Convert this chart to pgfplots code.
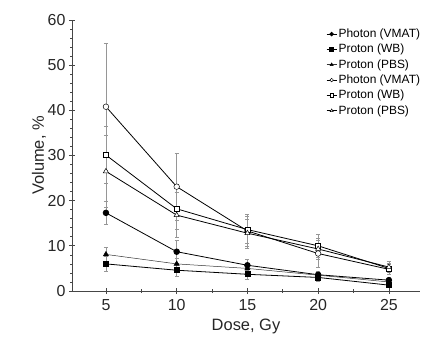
\documentclass[border=0pt]{standalone}
\usepackage{pgfplots}
\pgfplotsset{compat=1.18}
\usepackage{fontspec}
\setmainfont{Liberation Sans}
\definecolor{axgray}{RGB}{70,70,70}
\definecolor{errgray}{RGB}{150,150,150}
\begin{document}
\begin{tikzpicture}[x=1bp,y=1bp]
\useasboundingbox (-72bp,-53bp) rectangle (349bp,291bp);
\begin{axis}[
  at={(0,0)}, anchor=origin,
  scale only axis, width=348bp, height=271bp,
  xmin=2.6, xmax=27.2, ymin=0, ymax=60,
  xtick={5,10,15,20,25}, ytick={0,10,...,60},
  minor x tick num=1, minor y tick num=4,
  axis lines*=left, axis line style={-, axgray, line width=0.8pt},
  tick align=center, tick style={axgray, line width=0.7pt},
  major tick length=6bp, minor tick length=3bp,
  ticklabel style={font=\fontsize{16}{18}\selectfont, text=black!85},
  xticklabel style={yshift=-2bp},
  /pgf/number format/assume math mode=true,
  xlabel={Dose, Gy}, ylabel={Volume, \%},
  label style={font=\fontsize{16.5}{18}\selectfont, text=black!85},
  xlabel style={yshift=-1bp},
  ylabel style={yshift=-5bp},
  legend style={at={(1.005,0.975)}, anchor=north east, draw=none, fill=none,
    font=\fontsize{12}{13}\selectfont, row sep=1.2bp, inner sep=0pt,
    nodes={inner xsep=1.5bp}},
  legend cell align=left,
  legend image code/.code={\draw[#1, mark repeat=2, mark phase=2, mark size=1.8bp] plot coordinates {(0bp,0bp) (5bp,0bp) (10bp,0bp)};},
  error bars/error bar style={errgray, line width=0.5pt},
  error bars/error mark options={rotate=90, errgray, mark size=2bp, line width=0.5pt},
]
% filled circle: Photon (VMAT)
\addplot[black, line width=0.8pt, mark=*, mark size=2.8bp, mark options={fill=black},
  error bars/.cd, y dir=both, y explicit] coordinates {
  (5,17.3) +- (0,2.5) (10,8.7) +- (0,2.5) (15,5.7) +- (0,1.3) (20,3.6) +- (0,0.8) (25,2.4) +- (0,0.6)};
\addlegendentry{Photon (VMAT)}
% filled square: Proton (WB)
\addplot[black, line width=0.8pt, mark=square*, mark size=2.5bp, mark options={fill=black},
  error bars/.cd, y dir=both, y explicit] coordinates {
  (5,6.0) +- (0,1.6) (10,4.6) +- (0,1.3) (15,3.7) +- (0,1.0) (20,3.0) +- (0,0.8) (25,1.3) +- (0,0.5)};
\addlegendentry{Proton (WB)}
% filled triangle: Proton (PBS)
\addplot[black!80, line width=0.5pt, mark=triangle*, mark size=3bp, mark options={fill=black, draw=black},
  error bars/.cd, y dir=both, y explicit] coordinates {
  (5,8.1) +- (0,1.5) (10,6.0) +- (0,1.3) (15,5.0) +- (0,1.0) (20,3.5) +- (0,0.8) (25,2.0) +- (0,0.5)};
\addlegendentry{Proton (PBS)}
% open circle: Photon (VMAT)
\addplot[black, line width=0.8pt, mark=*, mark size=2.8bp, mark options={fill=white, draw=black, line width=0.5pt},
  error bars/.cd, y dir=both, y explicit] coordinates {
  (5,40.8) +- (0,14.0) (10,23.1) +- (0,7.4) (15,13.3) +- (0,3.8) (20,8.3) +- (0,3.0) (25,4.8) +- (0,1.2)};
\addlegendentry{Photon (VMAT)}
% open square: Proton (WB)
\addplot[black, line width=0.8pt, mark=square*, mark size=2.6bp, mark options={fill=white, draw=black, line width=0.5pt},
  error bars/.cd, y dir=both, y explicit] coordinates {
  (5,30.1) +- (0,6.3) (10,18.2) +- (0,4.5) (15,13.6) +- (0,3.0) (20,10.0) +- (0,2.5) (25,5.0) +- (0,1.2)};
\addlegendentry{Proton (WB)}
% open triangle: Proton (PBS)
\addplot[black, line width=0.8pt, mark=triangle*, mark size=3bp, mark options={fill=white, draw=black, line width=0.5pt},
  error bars/.cd, y dir=both, y explicit] coordinates {
  (5,26.5) +- (0,8.0) (10,16.8) +- (0,5.0) (15,12.8) +- (0,3.0) (20,9.3) +- (0,2.3) (25,5.3) +- (0,1.2)};
\addlegendentry{Proton (PBS)}
\end{axis}
\end{tikzpicture}
\end{document}
